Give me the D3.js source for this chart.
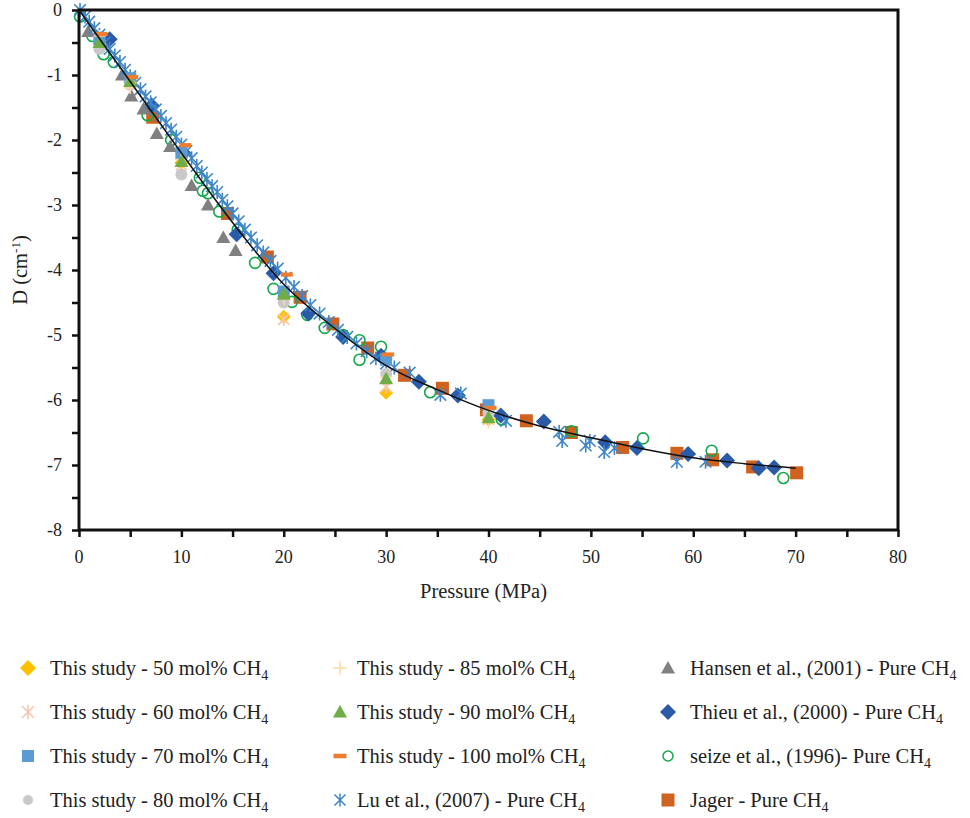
<!DOCTYPE html>
<html>
<head>
<meta charset="utf-8">
<script src="https://cdn.jsdelivr.net/npm/d3@7"></script>
<style>
  body { margin: 0; background: #fff; }
  text { font-family: "Liberation Serif", "DejaVu Serif", serif; fill: #222; }
</style>
</head>
<body>
<div id="chart"></div>
<script>
// data: [pressure MPa, D cm^-1]
var study50 = [[2.0,-0.52],[5.0,-1.12],[10.0,-2.35],[20.0,-4.72],[30.0,-5.89],[40.0,-6.3]];
var study60 = [[2.0,-0.55],[5.0,-1.1],[10.0,-2.38],[20.0,-4.76],[30.0,-5.8],[40.0,-6.3]];
var study70 = [[2.0,-0.45],[5.0,-1.05],[10.0,-2.2],[20.0,-4.33],[30.0,-5.38],[40.0,-6.08]];
var study80 = [[2.0,-0.6],[5.0,-1.15],[10.0,-2.53],[20.0,-4.5],[30.0,-5.6],[40.0,-6.2]];
var study85 = [[2.0,-0.4],[5.0,-1.2],[10.0,-2.3],[20.0,-4.45],[30.0,-5.65],[40.0,-6.35]];
var study90 = [[2.0,-0.5],[5.0,-1.1],[10.0,-2.33],[20.0,-4.37],[30.0,-5.67],[40.0,-6.27]];
var study100 = [[2.2,-0.37],[5.2,-1.03],[10.4,-2.08],[20.3,-4.07],[30.2,-5.3],[40.2,-6.12]];
var lu2007 = [[0.1,0.0],[0.6,-0.1],[1.0,-0.18],[1.5,-0.28],[2.0,-0.38],[2.5,-0.5],[3.0,-0.6],[3.5,-0.7],
  [4.0,-0.8],[4.5,-0.92],[5.0,-1.02],[5.5,-1.12],[6.0,-1.22],[6.5,-1.33],[7.0,-1.42],[7.5,-1.53],
  [8.0,-1.63],[8.5,-1.74],[9.0,-1.84],[9.5,-1.95],[10.0,-2.07],[10.5,-2.17],[11.0,-2.28],[11.5,-2.4],
  [12.0,-2.5],[12.5,-2.6],[13.0,-2.71],[13.5,-2.8],[14.0,-2.92],[14.5,-3.02],[15.0,-3.13],[15.6,-3.25],
  [16.2,-3.38],[16.8,-3.5],[17.4,-3.62],[18.0,-3.73],[18.7,-3.86],[19.4,-3.98],[20.2,-4.12],[21.0,-4.26],
  [21.8,-4.4],[22.6,-4.54],[23.5,-4.67],[24.4,-4.8],[25.3,-4.92],[26.2,-5.03],[27.1,-5.13],[28.1,-5.25],
  [29.0,-5.36],[30.0,-5.44],[30.8,-5.5],[32.3,-5.58],[35.3,-5.92],[37.3,-5.9],[41.7,-6.32],[46.9,-6.49],
  [47.2,-6.63],[49.5,-6.7],[49.9,-6.63],[51.3,-6.8],[52.3,-6.74],[58.4,-6.95],[61.2,-6.95]];
var hansen2001 = [[0.9,-0.33],[4.2,-1.0],[5.1,-1.32],[6.3,-1.52],[7.6,-1.9],[8.9,-2.1],[11.0,-2.7],
  [12.6,-3.0],[14.1,-3.5],[15.3,-3.7]];
var thieu2000 = [[3.0,-0.45],[7.1,-1.47],[10.2,-2.2],[15.4,-3.45],[19.0,-4.05],[22.4,-4.67],[25.8,-5.03],
  [29.5,-5.32],[33.2,-5.72],[37.0,-5.93],[41.2,-6.24],[45.4,-6.33],[51.4,-6.65],[54.5,-6.74],[59.5,-6.83],
  [63.3,-6.93],[66.4,-7.05],[67.9,-7.04]];
var seize1996 = [[0.1,-0.1],[1.3,-0.4],[2.4,-0.68],[3.4,-0.8],[6.7,-1.62],[9.0,-2.0],[11.8,-2.58],
  [12.1,-2.78],[12.6,-2.82],[13.7,-3.1],[15.5,-3.38],[17.2,-3.89],[19.0,-4.29],[20.8,-4.49],[22.3,-4.69],
  [24.0,-4.89],[25.8,-5.0],[27.4,-5.08],[27.4,-5.38],[29.5,-5.18],[34.3,-5.88],[41.3,-6.3],[48.1,-6.48],
  [55.1,-6.59],[61.8,-6.78],[68.8,-7.2]];
var jager = [[7.2,-1.65],[14.5,-3.13],[18.4,-3.8],[21.6,-4.42],[24.8,-4.83],[28.2,-5.2],[31.8,-5.62],
  [35.5,-5.82],[39.8,-6.15],[43.7,-6.32],[48.1,-6.5],[53.1,-6.73],[58.4,-6.82],[61.9,-6.92],[65.8,-7.03],
  [70.1,-7.12]];
// trend line
var fitP = [0, 5, 10, 15, 20, 25, 30, 35, 40, 45, 50, 55, 60, 65, 70];
var fitD = [0, -1.1, -2.2, -3.27, -4.22, -4.9, -5.47, -5.84, -6.16, -6.4, -6.58, -6.75, -6.89, -6.98, -7.05];

var xTicks = [0, 10, 20, 30, 40, 50, 60, 70, 80];
var yTicks = [0, -1, -2, -3, -4, -5, -6, -7, -8];

var width = 970, height = 818;
var pLeft = 79, pRight = 898, pTop = 10, pBottom = 530;

var svg = d3.select("#chart").append("svg")
  .attr("width", width)
  .attr("height", height);

var x = d3.scaleLinear().domain([0, 80]).range([pLeft, pRight]);
var y = d3.scaleLinear().domain([-8, 0]).range([pBottom, pTop]);

// marker shapes
function shape(kind, s) {
  switch (kind) {
    case "diamond": return "M0," + (-s) + "L" + s + ",0L0," + s + "L" + (-s) + ",0Z";
    case "square": return "M" + (-s) + "," + (-s) + "h" + (2 * s) + "v" + (2 * s) + "h" + (-2 * s) + "Z";
    case "triangle": return "M0," + (-s) + "L" + s + "," + (s * 0.8) + "L" + (-s) + "," + (s * 0.8) + "Z";
    case "star": return "M" + (-s) + "," + (-s) + "L" + s + "," + s + "M" + s + "," + (-s) + "L" + (-s) + "," + s +
      "M0," + (-s * 1.2) + "L0," + (s * 1.2);
    case "plus": return "M" + (-s) + ",0H" + s + "M0," + (-s) + "V" + s;
    case "dash": return "M" + (-s) + "," + (-s * 0.35) + "h" + (2 * s) + "v" + (s * 0.7) + "h" + (-2 * s) + "Z";
    case "circle": return d3.symbol().type(d3.symbolCircle).size(Math.PI * s * s)();
  }
}

var series = [
  {name: "This study - 50 mol% CH", data: study50, kind: "diamond", size: 7, leg: 8, fill: "#ffc000", stroke: "none", col: 0, row: 0},
  {name: "This study - 60 mol% CH", data: study60, kind: "star", size: 5.5, leg: 6, fill: "none", stroke: "#f8c4ad", col: 0, row: 1},
  {name: "This study - 70 mol% CH", data: study70, kind: "square", size: 6, leg: 6, fill: "#5b9bd5", stroke: "none", col: 0, row: 2},
  {name: "This study - 80 mol% CH", data: study80, kind: "circle", size: 6, leg: 5, fill: "#c9c9c9", stroke: "none", col: 0, row: 3},
  {name: "This study - 85 mol% CH", data: study85, kind: "plus", size: 6, leg: 7, fill: "none", stroke: "#ffd9a6", col: 1, row: 0},
  {name: "This study - 90 mol% CH", data: study90, kind: "triangle", size: 7, leg: 7, fill: "#70ad47", stroke: "none", col: 1, row: 1},
  {name: "This study - 100 mol% CH", data: study100, kind: "dash", size: 6, leg: 6.5, fill: "#ed7d31", stroke: "none", col: 1, row: 2},
  {name: "Lu et al., (2007) - Pure CH", data: lu2007, kind: "star", size: 5.8, leg: 5.5, fill: "none", stroke: "#3e86c8", col: 1, row: 3},
  {name: "Hansen et al., (2001) - Pure CH", data: hansen2001, kind: "triangle", size: 7, leg: 7, fill: "#808080", stroke: "none", col: 2, row: 0},
  {name: "Thieu et al., (2000) - Pure CH", data: thieu2000, kind: "diamond", size: 8, leg: 8, fill: "#2a5ba8", stroke: "none", col: 2, row: 1},
  {name: "seize et al., (1996)- Pure CH", data: seize1996, kind: "circle", size: 5.5, leg: 5, fill: "none", stroke: "#13a84a", col: 2, row: 2},
  {name: "Jager - Pure CH", data: jager, kind: "square", size: 6.5, leg: 6.5, fill: "#d0621f", stroke: "none", col: 2, row: 3}
];

// drawing order (later on top)
var order = [11, 10, 9, 8, 7, 0, 1, 2, 3, 4, 5, 6];

var plot = svg.append("g");
order.forEach(function(i) {
  var s = series[i];
  plot.append("g").selectAll("path")
    .data(s.data)
    .enter()
    .append("path")
      .attr("transform", function(d) { return "translate(" + x(d[0]) + "," + y(d[1]) + ")"; })
      .attr("d", shape(s.kind, s.size))
      .attr("fill", s.fill)
      .attr("stroke", s.stroke)
      .attr("stroke-width", s.kind == "circle" ? 1.6 : 1.6);
});

// trend line
var fit = fitP.map(function(p, i) { return [p, fitD[i]]; });
svg.append("path")
  .datum(fit)
  .attr("fill", "none")
  .attr("stroke", "#111")
  .attr("stroke-width", 1.5)
  .attr("d", d3.line()
    .x(function(d) { return x(d[0]); })
    .y(function(d) { return y(d[1]); })
    .curve(d3.curveMonotoneX));

// frame
svg.append("rect")
  .attr("x", pLeft).attr("y", pTop)
  .attr("width", pRight - pLeft).attr("height", pBottom - pTop)
  .attr("fill", "none").attr("stroke", "#111").attr("stroke-width", 3);

// axes
var xAxis = svg.append("g")
  .attr("transform", "translate(0," + pBottom + ")")
  .call(d3.axisBottom(x).tickValues(d3.range(0, 81, 5)).tickSize(7).tickFormat(""));
xAxis.selectAll("line").attr("stroke", "#111").attr("stroke-width", 2.5);
xAxis.select(".domain").remove();
svg.append("g").selectAll("text")
  .data(xTicks)
  .enter()
  .append("text")
    .attr("x", function(d) { return x(d); })
    .attr("y", pBottom + 33)
    .attr("text-anchor", "middle")
    .style("font-size", "18px")
    .text(function(d) { return d; });

var yAxis = svg.append("g")
  .attr("transform", "translate(" + pLeft + ",0)")
  .call(d3.axisLeft(y).tickValues(d3.range(-8, 0.01, 0.5)).tickSize(7).tickFormat(""));
yAxis.selectAll("line").attr("stroke", "#111").attr("stroke-width", 2.5);
yAxis.select(".domain").remove();
svg.append("g").selectAll("text")
  .data(yTicks)
  .enter()
  .append("text")
    .attr("x", pLeft - 17)
    .attr("y", function(d) { return y(d) + 6; })
    .attr("text-anchor", "end")
    .style("font-size", "18px")
    .text(function(d) { return d; });

// axis titles
svg.append("text")
  .attr("x", (pLeft + pRight) / 2 - 5)
  .attr("y", 598)
  .attr("text-anchor", "middle")
  .style("font-size", "20.5px")
  .text("Pressure (MPa)");

var yt = svg.append("text")
  .attr("transform", "translate(27,270) rotate(-90)")
  .attr("text-anchor", "middle")
  .style("font-size", "20.5px");
yt.append("tspan").text("D (cm");
yt.append("tspan").attr("dy", -7).style("font-size", "13px").text("-1");
yt.append("tspan").attr("dy", 7).text(")");

// legend
var colX = [28, 340, 668];
var rowY = [668, 712, 756, 800];
var legend = svg.append("g");
series.forEach(function(s) {
  var g = legend.append("g")
    .attr("transform", "translate(" + colX[s.col] + "," + rowY[s.row] + ")");
  g.append("path")
    .attr("d", shape(s.kind, s.leg))
    .attr("fill", s.fill)
    .attr("stroke", s.stroke)
    .attr("stroke-width", 1.5);
  var t = g.append("text")
    .attr("x", s.col == 1 ? 17 : 22)
    .attr("y", 7)
    .style("font-size", "20.5px");
  t.append("tspan").text(s.name);
  t.append("tspan").attr("dy", 5).style("font-size", "14px").text("4");
});
</script>
</body>
</html>
